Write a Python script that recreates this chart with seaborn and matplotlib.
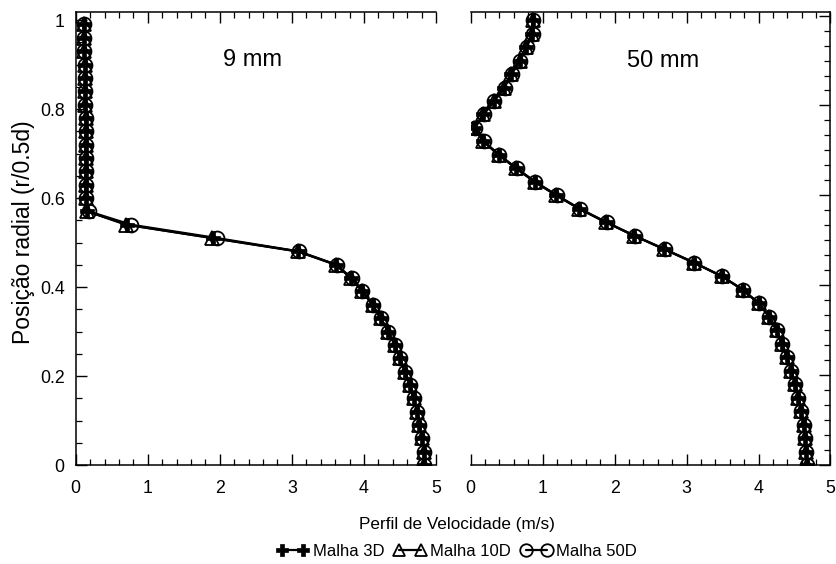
import numpy as np
import pandas as pd
import matplotlib
matplotlib.use("Agg")
import matplotlib.pyplot as plt
from matplotlib.ticker import MultipleLocator, AutoMinorLocator, FuncFormatter
from matplotlib.lines import Line2D
import seaborn as sns

# ---------------- data ----------------
radial = [0.99, 0.96, 0.93, 0.90, 0.87, 0.84, 0.81, 0.78, 0.75, 0.72, 0.69, 0.66,
          0.63, 0.60, 0.57, 0.54, 0.51, 0.48, 0.45, 0.42, 0.39, 0.36, 0.33, 0.30,
          0.27, 0.24, 0.21, 0.18, 0.15, 0.12, 0.09, 0.06, 0.03, 0.00]

v9_3d = [0.11, 0.12, 0.12, 0.13, 0.13, 0.13, 0.13, 0.14, 0.14, 0.14, 0.14, 0.14,
         0.14, 0.14, 0.16, 0.71, 1.90, 3.08, 3.61, 3.82, 3.98, 4.12, 4.23, 4.34,
         4.43, 4.50, 4.57, 4.64, 4.69, 4.74, 4.77, 4.81, 4.83, 4.84]
v9_10d = [0.11, 0.12, 0.12, 0.13, 0.13, 0.13, 0.13, 0.14, 0.14, 0.14, 0.14, 0.14,
          0.14, 0.14, 0.16, 0.70, 1.89, 3.08, 3.61, 3.82, 3.98, 4.12, 4.23, 4.34,
          4.43, 4.50, 4.57, 4.64, 4.69, 4.74, 4.77, 4.81, 4.83, 4.84]
v9_50d = [0.11, 0.12, 0.12, 0.13, 0.13, 0.13, 0.13, 0.14, 0.14, 0.14, 0.14, 0.14,
          0.14, 0.14, 0.18, 0.77, 1.96, 3.10, 3.62, 3.83, 3.98, 4.12, 4.23, 4.34,
          4.43, 4.50, 4.57, 4.64, 4.69, 4.74, 4.77, 4.81, 4.83, 4.84]

v50_3d = [0.86, 0.85, 0.77, 0.68, 0.56, 0.46, 0.32, 0.175, 0.05, 0.175, 0.39, 0.63,
          0.89, 1.19, 1.51, 1.88, 2.275, 2.69, 3.105, 3.49, 3.78, 4.00, 4.15, 4.25,
          4.325, 4.40, 4.455, 4.51, 4.555, 4.59, 4.625, 4.65, 4.66, 4.67]
v50_10d = [0.86, 0.85, 0.77, 0.68, 0.56, 0.46, 0.32, 0.175, 0.05, 0.175, 0.39, 0.63,
           0.89, 1.19, 1.51, 1.88, 2.275, 2.69, 3.105, 3.49, 3.78, 4.00, 4.15, 4.25,
           4.325, 4.40, 4.455, 4.51, 4.555, 4.59, 4.625, 4.65, 4.66, 4.67]
v50_50d = [0.87, 0.86, 0.78, 0.69, 0.57, 0.47, 0.33, 0.18, 0.06, 0.18, 0.40, 0.64,
           0.90, 1.20, 1.52, 1.89, 2.28, 2.70, 3.11, 3.49, 3.78, 4.00, 4.15, 4.25,
           4.325, 4.40, 4.455, 4.51, 4.555, 4.59, 4.625, 4.65, 4.66, 4.67]

series_names = ["Malha 3D", "Malha 10D", "Malha 50D"]
panel_titles = ["9 mm", "50 mm"]
x_ticks = [0, 1, 2, 3, 4, 5]
y_ticks = [0, 0.2, 0.4, 0.6, 0.8, 1]

# ---------------- style ----------------
sns.set_theme(style="white")
plt.rcParams['font.family'] = ['Liberation Sans', 'DejaVu Sans']
plt.rcParams['axes.linewidth'] = 1.1
plt.rcParams['text.color'] = 'black'
plt.rcParams['axes.labelcolor'] = 'black'

W, H = 837, 564
fig = plt.figure(figsize=(W / 100, H / 100), dpi=100)

def fx(px):
    return px / W

def fy(py):
    return 1 - py / H

axL = fig.add_axes([fx(75.7), fy(465), fx(436 - 75.7), (465 - 12) / H])
axR = fig.add_axes([fx(470.7), fy(465), fx(830.5 - 470.7), (465 - 12) / H])

styles = {
    "Malha 3D": dict(marker="P", markersize=9.5, markerfacecolor="black",
                     markeredgecolor="black", markeredgewidth=0.5),
    "Malha 10D": dict(marker="^", markersize=9.5, markerfacecolor="none",
                      markeredgecolor="black", markeredgewidth=1.3),
    "Malha 50D": dict(marker="o", markersize=10, markerfacecolor="none",
                      markeredgecolor="black", markeredgewidth=1.3),
}

def make_df(vals):
    rows = []
    for name, v in zip(series_names, vals):
        for xv, yv in zip(v, radial):
            rows.append(dict(serie=name, vel=xv, pos=yv))
    return pd.DataFrame(rows)

dfL = make_df([v9_3d, v9_10d, v9_50d])
dfR = make_df([v50_3d, v50_10d, v50_50d])

for ax, df in [(axL, dfL), (axR, dfR)]:
    for name in series_names:
        sub = df[df["serie"] == name]
        sns.lineplot(data=sub, x="vel", y="pos", ax=ax, sort=False, estimator=None,
                     color="black", linewidth=1.6, legend=False, **styles[name])

# ---------------- axes formatting ----------------
fmt = FuncFormatter(lambda v, p: f"{v:g}")

axL.set_xlim(0, 5)
axL.set_ylim(0, 1.018)
axR.set_xlim(0, 5)
axR.set_ylim(0, 1.008)

for ax in (axL, axR):
    ax.set_xticks(x_ticks)
    ax.set_yticks(y_ticks)
    ax.xaxis.set_minor_locator(MultipleLocator(0.2))
    ax.xaxis.set_major_formatter(fmt)
    ax.yaxis.set_major_formatter(fmt)
    ax.set_xlabel("")
    ax.set_ylabel("")
    for s in ax.spines.values():
        s.set_color("black")
    ax.tick_params(which="both", direction="in", colors="black", labelsize=12.8,
                   top=True, bottom=True)
    ax.tick_params(which="major", length=8, width=1.0)
    ax.tick_params(which="minor", length=4.5, width=0.9)
    ax.tick_params(axis="x", which="major", pad=11)

axL.yaxis.set_minor_locator(MultipleLocator(0.05))
axL.spines["right"].set_visible(False)
axL.tick_params(which="both", left=True, right=False, labelleft=True)
axL.tick_params(axis="y", which="major", pad=8)

axR.yaxis.set_minor_locator(AutoMinorLocator(6))
axR.spines["left"].set_visible(False)
axR.tick_params(which="both", left=False, right=True, labelleft=False, labelright=False)

axL.text(2.46, 0.91, panel_titles[0], ha="center", va="center", fontsize=17, color="black")
axR.text(2.67, 0.90, panel_titles[1], ha="center", va="center", fontsize=17, color="black")

fig.text(fx(457), fy(524), "Perfil de Velocidade (m/s)", ha="center", va="center",
         fontsize=12.3, color="black")
fig.text(fx(24), fy(232), "Posição radial (r/0.5d)", ha="center", va="center",
         rotation=90, fontsize=16.5, color="black")

handles = [Line2D([0], [0], color="black", linewidth=1.6, **styles[n]) for n in series_names]
leg = fig.legend(handles, series_names, loc="center", bbox_to_anchor=(fx(457), fy(551)),
                 ncol=3, frameon=False, numpoints=2, handlelength=1.9, handletextpad=0.25,
                 columnspacing=0.6, fontsize=12, markerscale=0.9)
for t in leg.get_texts():
    t.set_color("black")

fig.savefig("out.png", dpi=100)
